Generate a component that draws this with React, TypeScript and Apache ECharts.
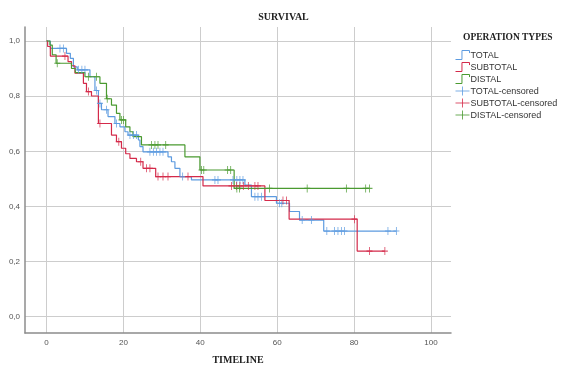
import React, { useEffect, useRef } from "react";
import * as echarts from "echarts";

const xTicks = [0, 20, 40, 60, 80, 100];
const yTicks = [0, 0.2, 0.4, 0.6, 0.8, 1.0];

const groups = ["TOTAL", "SUBTOTAL", "DISTAL"];
const colors = ["#5d9be0", "#d42a4a", "#4a9a30"];

// Kaplan-Meier steps: [time, survival after the event]; last entry = end of follow-up
const totalSteps: [number, number][] = [
  [0, 1.0], [1.0, 0.973], [5.2, 0.955], [6.2, 0.937], [7.0, 0.906], [8.0, 0.895],
  [11.3, 0.87], [12.6, 0.82], [13.5, 0.773], [14.3, 0.75], [16.0, 0.725], [17.8, 0.70],
  [19.1, 0.688], [20.4, 0.67], [21.2, 0.658], [23.9, 0.64], [24.3, 0.616], [25.1, 0.597],
  [31.6, 0.579], [32.5, 0.561], [33.4, 0.537], [34.7, 0.507], [37.7, 0.495], [51.6, 0.476],
  [53.3, 0.434], [59.8, 0.41], [63.2, 0.38], [65.8, 0.349], [72.1, 0.309], [91.0, 0.309],
];
const totalCensored: number[] = [
  3.5, 4.4, 8.3, 9.2, 10.0, 13.0, 13.9, 15.6, 18.2, 21.7, 22.6, 23.4, 26.9, 27.8, 28.6,
  29.5, 30.3, 35.4, 43.8, 44.6, 48.5, 49.5, 50.3, 51.1, 54.2, 55.0, 55.9, 60.6, 61.2,
  66.5, 68.9, 72.9, 74.9, 75.8, 76.7, 77.5, 88.8, 91.0,
];

const subtotalSteps: [number, number][] = [
  [0, 1.0], [0.3, 0.98], [1.0, 0.945], [5.6, 0.925], [6.5, 0.91], [7.4, 0.883],
  [9.6, 0.846], [10.4, 0.816], [11.7, 0.80], [13.5, 0.70], [16.9, 0.658], [18.2, 0.634],
  [19.5, 0.61], [20.6, 0.59], [21.7, 0.573], [23.4, 0.561], [25.1, 0.537], [28.4, 0.507],
  [40.7, 0.473], [56.8, 0.42], [63.1, 0.352], [80.8, 0.236], [88.0, 0.236],
];
const subtotalCensored: number[] = [
  4.8, 10.9, 13.9, 18.8, 24.5, 26.0, 26.9, 29.0, 30.3, 31.6, 36.8, 48.1, 49.4, 50.3,
  51.2, 52.5, 54.2, 55.0, 61.5, 62.4, 80.1, 84.0, 88.0,
];

const distalSteps: [number, number][] = [
  [0, 1.0], [0.9, 0.985], [1.5, 0.95], [2.5, 0.919], [6.5, 0.90], [7.5, 0.885],
  [10.0, 0.87], [13.9, 0.846], [15.6, 0.79], [16.9, 0.767], [18.2, 0.737], [19.1, 0.713],
  [20.6, 0.688], [21.7, 0.67], [22.5, 0.652], [24.7, 0.622], [36.0, 0.579], [39.9, 0.531],
  [48.8, 0.464], [84.0, 0.464],
];
const distalCensored: number[] = [
  2.8, 10.9, 13.0, 15.8, 19.5, 20.0, 27.3, 28.2, 29.0, 31.0, 40.3, 40.9, 47.1, 47.9,
  49.5, 50.2, 58.0, 67.8, 78.0, 83.0, 84.0,
];

const allSteps = [totalSteps, subtotalSteps, distalSteps];
const allCensored = [totalCensored, subtotalCensored, distalCensored];

function survivalAt(steps: [number, number][], t: number): number {
  let s = steps[0][1];
  for (const [ti, si] of steps) {
    if (ti <= t) s = si;
    else break;
  }
  return s;
}

const stepIcon = "path://M0,8 L6,8 L6,1 L13,1 L13,3";
const plusIcon = "path://M0,5 L14,5 M7,0 L7,10";
const censorSymbol = "path://M0,5 L6,5 M3,0 L3,10";

export default function App() {
  const ref = useRef<HTMLDivElement>(null);
  useEffect(() => {
    if (!ref.current) return;
    const chart = echarts.init(ref.current, undefined, { renderer: "svg" });
    const series: any[] = [];
    groups.forEach((g, i) => {
      series.push({
        name: g,
        type: "line",
        step: "end",
        showSymbol: false,
        data: allSteps[i],
        color: colors[i],
        lineStyle: { color: colors[i], width: 1.2 },
        itemStyle: { color: colors[i] },
        z: 3,
      });
    });
    groups.forEach((g, i) => {
      series.push({
        name: g + "-censored",
        type: "scatter",
        symbol: censorSymbol,
        symbolSize: [6, 8],
        color: colors[i],
        data: allCensored[i].map((t) => [t, survivalAt(allSteps[i], t)]),
        itemStyle: { color: "transparent", borderColor: colors[i], borderWidth: 1 },
        z: 4,
      });
    });
    const legendData = [
      ...groups.map((g, i) => ({
        name: g,
        icon: stepIcon,
        itemStyle: { color: "transparent", borderColor: colors[i], borderWidth: 1 },
        lineStyle: { color: colors[i], width: 1 },
      })),
      ...groups.map((g, i) => ({
        name: g + "-censored",
        icon: plusIcon,
        itemStyle: { color: "transparent", borderColor: colors[i], borderWidth: 1 },
      })),
    ];
    chart.setOption({
      animation: false,
      title: [
        {
          text: "SURVIVAL",
          left: "center",
          top: 6,
          padding: 5,
          textStyle: { fontFamily: "Liberation Serif", fontWeight: "bold", fontSize: 10, color: "#222" },
        },
        {
          text: "OPERATION TYPES",
          left: 458,
          top: 27,
          padding: 5,
          textStyle: { fontFamily: "Liberation Serif", fontWeight: "bold", fontSize: 9.5, color: "#222" },
        },
      ],
      legend: {
        orient: "vertical",
        left: 455,
        top: 50,
        padding: 0,
        itemWidth: 14,
        itemHeight: 9,
        itemGap: 2,
        symbolKeepAspect: false,
        data: legendData,
        textStyle: { fontFamily: "Liberation Sans", fontSize: 9, color: "#333", lineHeight: 9, padding: [0, 0, 0, -4] },
      },
      grid: { left: 25, right: 116, top: 27, bottom: 36 },
      xAxis: {
        type: "value",
        min: -5.59,
        max: 105.2,
        name: "TIMELINE",
        nameLocation: "middle",
        nameGap: 21,
        nameTextStyle: { fontFamily: "Liberation Serif", fontWeight: "bold", fontSize: 10, color: "#222" },
        axisLine: { show: true, onZero: false, lineStyle: { color: "#8c8c8c", width: 1.5 } },
        axisTick: { show: false, customValues: xTicks },
        axisLabel: { customValues: xTicks, fontSize: 8, color: "#555", margin: 5, fontFamily: "Liberation Sans" },
        splitLine: { show: true, lineStyle: { color: "#cdcdcd", width: 1 } },
      },
      yAxis: {
        type: "value",
        min: -0.0618,
        max: 1.0509,
        axisLine: { show: true, onZero: false, lineStyle: { color: "#8c8c8c", width: 1.5 } },
        axisTick: { show: false, customValues: yTicks },
        axisLabel: {
          customValues: yTicks,
          fontSize: 8,
          color: "#555",
          margin: 5,
          fontFamily: "Liberation Sans",
          formatter: (v: number) => v.toFixed(1).replace(".", ","),
        },
        splitLine: { show: true, lineStyle: { color: "#cdcdcd", width: 1 } },
      },
      series,
    });
    return () => chart.dispose();
  }, []);
  return <div ref={ref} style={{ position: "fixed", left: 0, top: 0, width: 567, height: 369 }} />;
}
